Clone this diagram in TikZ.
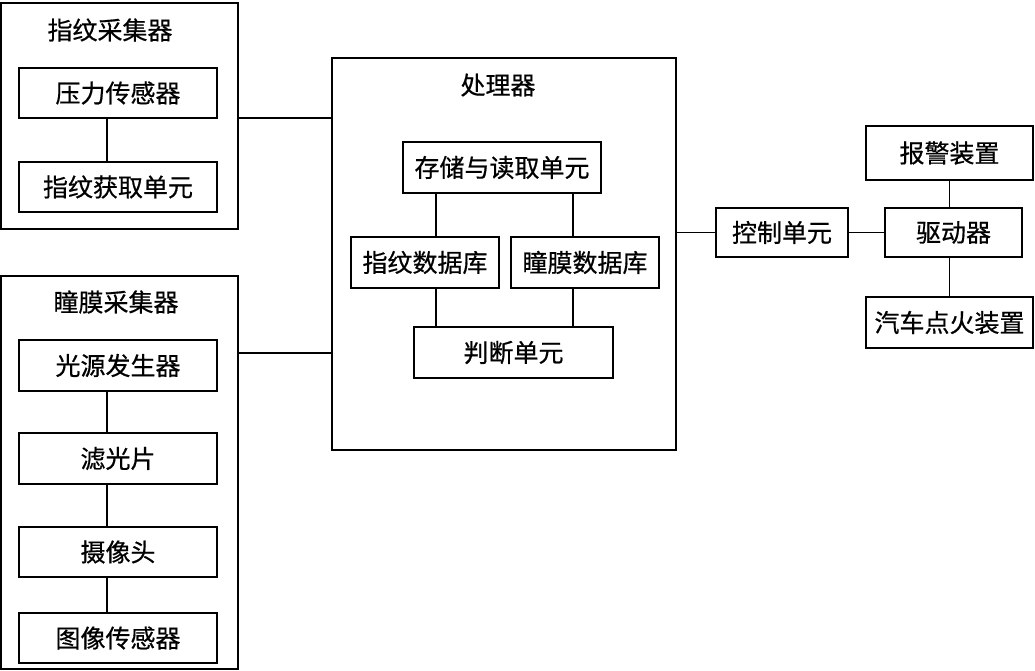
\documentclass[tikz,border=0pt]{standalone}
\usepackage{fontspec}
\setmainfont{Noto Sans CJK SC}[AutoFakeBold=0.6]
\usetikzlibrary{positioning}

\begin{document}
\begin{tikzpicture}[
  x=1pt, y=-1pt,
  font=\fontsize{25}{30}\selectfont\bfseries,
  line width=1.6pt,
  outer/.style={draw, inner sep=0pt, outer sep=0pt, anchor=north west},
  box/.style={draw, inner sep=0pt, outer sep=0pt, minimum height=50pt},
  title/.style={inner sep=0pt}
]
\useasboundingbox (0,0) rectangle (1035,671);
% fingerprint collector
\node[outer, minimum width=237pt, minimum height=226pt] (fpcol) at (1,3) {};
\node[title] (fptitle) at (110,30) {指纹采集器};
\node[box, minimum width=198pt] (press) at (118,93) {压力传感器};
\node[box, minimum width=198pt, below=44pt of press] (fpget) {指纹获取单元};
\draw ([xshift=-11pt]press.south) -- ([xshift=-11pt]fpget.north);
% iris collector
\node[outer, minimum width=237pt, minimum height=393pt] (iriscol) at (1,276) {};
\node[title] (iristitle) at (116,302) {瞳膜采集器};
\node[box, minimum width=198pt, minimum height=51pt] (light) at (118,365.5) {光源发生器};
\node[box, minimum width=198pt, minimum height=51pt, below=42pt of light] (filter) {滤光片};
\node[box, minimum width=198pt, below=43pt of filter] (camera) {摄像头};
\node[box, minimum width=198pt, below=36pt of camera] (imgsens) {图像传感器};
\foreach \a/\b in {light/filter, filter/camera, camera/imgsens}
  \draw ([xshift=-11pt]\a.south) -- ([xshift=-11pt]\b.north);
% processor
\node[outer, minimum width=344pt, minimum height=392pt] (proc) at (332,58) {};
\node[title] (proctitle) at (498,85) {处理器};
\node[box, minimum width=198pt, minimum height=51pt] (store) at (502,167.5) {存储与读取单元};
\node[box, minimum width=148pt, minimum height=51pt] (fpdb) at (425,262.5) {指纹数据库};
\node[box, minimum width=148pt, minimum height=51pt, right=12pt of fpdb] (irisdb) {瞳膜数据库};
\node[box, minimum width=199pt, minimum height=51pt] (judge) at (513.5,352.5) {判断单元};
\draw ([xshift=11pt]fpdb.north) -- ([xshift=11pt]fpdb.north |- store.south);
\draw ([xshift=-12pt]irisdb.north) -- ([xshift=-12pt]irisdb.north |- store.south);
\draw ([xshift=11pt]fpdb.south) -- ([xshift=11pt]fpdb.south |- judge.north);
\draw ([xshift=-12pt]irisdb.south) -- ([xshift=-12pt]irisdb.south |- judge.north);
% collectors to processor
\draw ([yshift=-2pt]fpcol.east) -- ([yshift=-2pt]fpcol.east -| proc.west);
\draw ([yshift=-77pt]iriscol.north east) -- ([yshift=-77pt]iriscol.north east -| proc.west);
% control side
\node[box, minimum width=132pt, minimum height=49pt] (ctrl) at (782,232.5) {控制单元};
\node[box, minimum width=137pt, minimum height=49pt, right=37pt of ctrl] (drive) {驱动器};
\node[box, minimum width=167pt, minimum height=54pt] (alarm) at (949.5,153) {报警装置};
\node[box, minimum width=167pt, minimum height=51pt] (ignite) at (949.5,322.5) {汽车点火装置};
\draw (ctrl.west -| proc.east) -- (ctrl.west);
\draw (ctrl) -- (drive);
\draw (alarm) -- (alarm |- drive.north);
\draw (ignite |- drive.south) -- (ignite);
\end{tikzpicture}
\end{document}
